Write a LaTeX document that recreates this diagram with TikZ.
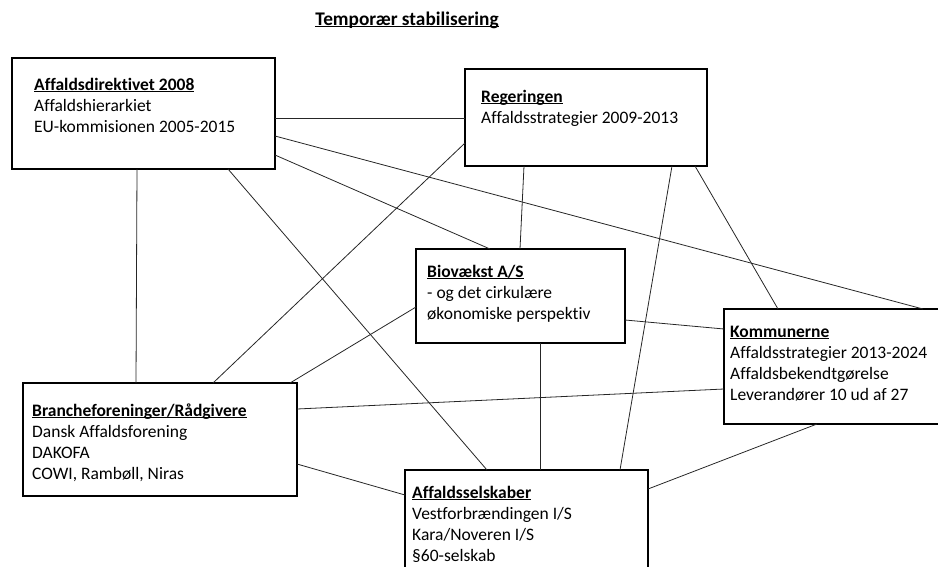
\documentclass[tikz,border=0pt]{standalone}
\usepackage{fontspec}
\setmainfont{Carlito}[Ligatures = CommonOff]
\usetikzlibrary{positioning}

\newcommand{\boxfont}{\fontsize{17.5}{21}\selectfont}
\newcommand{\titlefont}{\fontsize{19.3}{23}\selectfont}
\newcommand{\boxhead}[1]{\textbf{\underline{\smash{#1}}}}

\begin{document}
\begin{tikzpicture}
[
	x							= 1pt,
	y							= -1pt,
	%
	% boxes | texts in the boxes | lines between the boxes
	panel/.style				=
	{
		draw,
		line width				= 2.6pt,
		anchor					= north west,
		inner sep				= 0pt,
		outer sep				= 0pt
	},
	paneltext/.style			=
	{
		anchor					= north west,
		inner sep				= 0pt,
		align					= left,
		font					= \boxfont
	},
	link/.style					= {black!85, line width = 0.8pt},
]
	\useasboundingbox (0,0) rectangle (938,566);
	\clip (0,0) rectangle (938,566);

	\node [anchor = base, inner sep = 0pt, font = \titlefont] (title) at (407,25) {\boxhead{Temporær stabilisering}};

	\node [panel, minimum width = 263pt, minimum height = 111pt] (dir) at (12,58) {};
	\node [panel, minimum width = 242pt, minimum height = 97pt] (reg) at (465,69) {};
	\node [panel, minimum width = 209pt, minimum height = 94pt] (bio) at (416,249) {};
	\node [panel, minimum width = 216pt, minimum height = 115pt] (kom) at (724,309) {};
	\node [panel, minimum width = 274pt, minimum height = 113pt] (bra) at (23,383) {};
	\node [panel, minimum width = 243pt, minimum height = 130pt] (sel) at (405,470) {};

	\node [paneltext, below right = 17.3pt and 22pt of dir.north west] (dirtext)
	{\strut\boxhead{Affaldsdirektivet 2008}\\ Affaldshierarkiet\\ EU-kommisionen 2005-2015};
	\node [paneltext, below right = 18.3pt and 16pt of reg.north west] (regtext)
	{\strut\boxhead{Regeringen}\\ Affaldsstrategier 2009-2013};
	\node [paneltext, below right = 13.3pt and 11pt of bio.north west] (biotext)
	{\strut\boxhead{Biovækst A/S}\\ - og det cirkulære\\ økonomiske perspektiv};
	\node [paneltext, below right = 13.3pt and 6pt of kom.north west] (komtext)
	{\strut\boxhead{Kommunerne}\\ Affaldsstrategier 2013-2024\\ Affaldsbekendtgørelse\\ Leverandører 10 ud af 27};
	\node [paneltext, below right = 18.3pt and 9pt of bra.north west] (bratext)
	{\strut\boxhead{Brancheforeninger/Rådgivere}\\ Dansk Affaldsforening\\ DAKOFA\\ COWI, Rambøll, Niras};
	\node [paneltext, below right = 13.3pt and 7pt of sel.north west] (seltext)
	{\strut\boxhead{Affaldsselskaber}\\ Vestforbrændingen I/S\\ Kara/Noveren I/S\\ §60-selskab};

	\draw [link] ([yshift = -60pt]dir.north east) -- ([yshift = -49pt]reg.north west);
	\draw [link] ([yshift = -78pt]dir.north east) -- ([xshift = 199pt]kom.north west);
	\draw [link] ([yshift = -97pt]dir.north east) -- ([xshift = 74pt]bio.north west);
	\draw [link] ([xshift = 125pt]dir.south west) -- ([xshift = 113pt]bra.north west);
	\draw [link] ([xshift = 216pt]dir.south west) -- ([xshift = 82pt]sel.north west);

	\draw [link] ([yshift = -74pt]reg.north west) -- ([xshift = 190pt]bra.north west);
	\draw [link] ([xshift = 59pt]reg.south west) -- ([xshift = 104pt]bio.north west);
	\draw [link] ([xshift = 207pt]reg.south west) -- ([xshift = 215pt]sel.north west);
	\draw [link] ([xshift = 230pt]reg.south west) -- ([xshift = 54pt]kom.north west);

	\draw [link] ([yshift = -58pt]bio.north west) -- ([xshift = 267pt]bra.north west);
	\draw [link] ([yshift = -71pt]bio.north east) -- ([yshift = -20pt]kom.north west);
	\draw [link] ([xshift = 124pt]bio.south west) -- ([xshift = 135pt]sel.north west);

	\draw [link] ([yshift = -26pt]bra.north east) -- ([yshift = -80pt]kom.north west);
	\draw [link] ([yshift = -81pt]bra.north east) -- ([yshift = -25pt]sel.north west);
	\draw [link] ([xshift = 93pt]kom.south west) -- ([yshift = -19pt]sel.north east);

\end{tikzpicture}
\end{document}
